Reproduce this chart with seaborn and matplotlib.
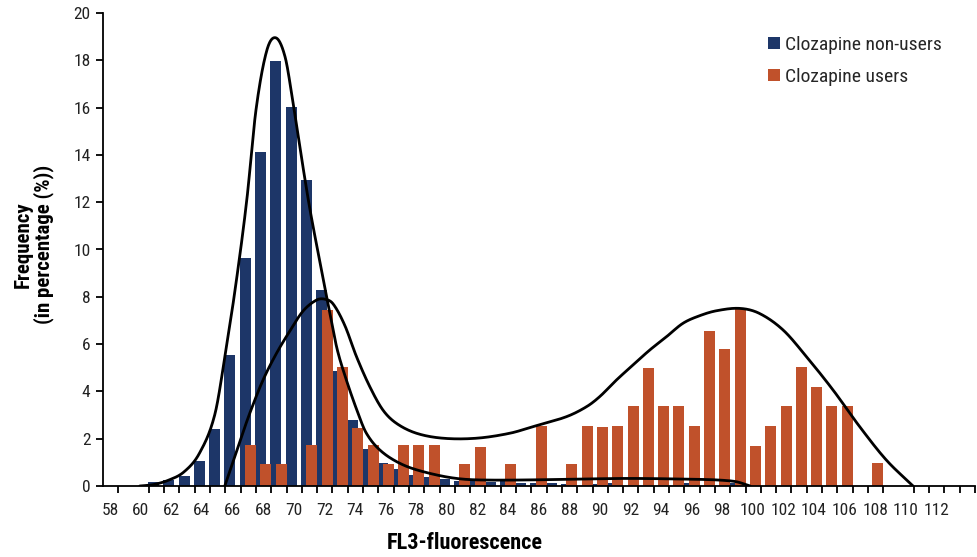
import numpy as np
import pandas as pd
import matplotlib
matplotlib.use("Agg")
import matplotlib.pyplot as plt
import seaborn as sns
from matplotlib.patches import Patch
from matplotlib.ticker import FixedLocator

# Histogram of FL3-fluorescence (percentage of cells per bin)
fluor_nonusers = list(range(61, 100))
pct_nonusers = [0.17, 0.25, 0.42, 1.06, 2.41, 5.54, 9.64, 14.12, 17.97, 16.03,
                12.94, 8.29, 4.86, 2.79, 1.56, 0.99, 0.72, 0.46, 0.40, 0.28,
                0.20, 0.20, 0.18, 0.20, 0.14, 0.14, 0.14, 0.10, 0.00, 0.10,
                0.12, 0.00, 0.00, 0.00, 0.00, 0.12, 0.00, 0.00, 0.12]

fluor_users = list(range(67, 109))
pct_users = [1.73, 0.93, 0.93, 0.00, 1.73, 7.44, 5.03, 2.44, 1.73, 0.93,
             1.73, 1.73, 1.73, 0.00, 0.93, 1.65, 0.00, 0.93, 0.00, 2.54,
             0.00, 0.93, 2.54, 2.49, 2.54, 3.38, 4.99, 3.38, 3.38, 2.54,
             6.55, 5.79, 7.48, 1.69, 2.54, 3.38, 5.03, 4.19, 3.38, 3.38,
             0.00, 0.97]

# Smoothed distribution outlines (control points)
curve_nonusers_x = [60.1, 61.0, 62.0, 63.0, 64.0, 65.0, 65.7, 66.4, 67.1, 67.7,
                    68.4, 69.0, 69.6, 70.1, 70.6, 71.2, 71.9, 72.5, 73.0, 73.6,
                    74.3, 74.9, 75.8, 77.1, 78.6, 80.8, 83.0, 88.0, 92.0, 96.7,
                    98.0, 99.1, 100.0]
curve_nonusers_y = [0.0, 0.06, 0.25, 0.6, 1.38, 3.0, 5.6, 8.6, 12.1, 15.9,
                    18.4, 18.95, 18.15, 16.3, 14.2, 11.8, 9.4, 7.4, 5.8, 4.5,
                    3.2, 2.25, 1.52, 0.96, 0.61, 0.32, 0.25, 0.28, 0.32, 0.28,
                    0.25, 0.18, 0.0]

curve_users_x = [65.66, 66.64, 67.29, 68.16, 69.04, 69.91, 70.78, 71.65, 72.2, 72.74,
                 73.5, 74.27, 75.14, 76.0, 76.88, 78.19, 79.93, 82.11, 84.29, 85.81,
                 87.99, 89.3, 90.17, 91.26, 92.35, 93.44, 94.53, 95.61, 96.7, 97.8,
                 99.32, 100.6, 102.15, 103.68, 105.42, 107.16, 108.9, 110.65]
curve_users_y = [0.0, 1.87, 3.07, 4.48, 5.61, 6.55, 7.4, 7.86, 7.9, 7.7,
                 6.8, 5.47, 4.2, 3.21, 2.65, 2.23, 2.02, 2.02, 2.23, 2.51,
                 2.93, 3.35, 3.78, 4.48, 5.12, 5.75, 6.31, 6.88, 7.2, 7.41,
                 7.51, 7.3, 6.6, 5.47, 4.06, 2.51, 1.1, 0.0]

x_tick_labels = list(range(58, 113, 2))
y_ticks = list(range(0, 21, 2))

labels = ["Clozapine non-users", "Clozapine users"]
navy = "#1d3668"
rust = "#c0512b"


def smooth_line(xs, ys, steps=30):
    """Cubic Hermite curve through the control points (finite-difference slopes)."""
    x = np.asarray(xs, float)
    y = np.asarray(ys, float)
    m = np.empty_like(y)
    m[1:-1] = (y[2:] - y[:-2]) / (x[2:] - x[:-2])
    m[0] = (y[1] - y[0]) / (x[1] - x[0])
    m[-1] = (y[-1] - y[-2]) / (x[-1] - x[-2])
    px, py = [], []
    t = np.linspace(0, 1, steps, endpoint=False)
    h00 = 2 * t ** 3 - 3 * t ** 2 + 1
    h10 = t ** 3 - 2 * t ** 2 + t
    h01 = -2 * t ** 3 + 3 * t ** 2
    h11 = t ** 3 - t ** 2
    for i in range(len(x) - 1):
        h = x[i + 1] - x[i]
        px.append(x[i] + h * t)
        py.append(h00 * y[i] + h10 * h * m[i] + h01 * y[i + 1] + h11 * h * m[i + 1])
    px.append([x[-1]])
    py.append([y[-1]])
    return np.concatenate(px), np.clip(np.concatenate(py), 0, None)


sns.set_theme(style="ticks")
plt.rcParams["font.family"] = ["Roboto Condensed", "Liberation Sans Narrow",
                               "Liberation Sans", "DejaVu Sans"]

fig = plt.figure(figsize=(9.78, 5.57), dpi=100)
ax = fig.add_axes([103 / 978, 1 - 486 / 557, (975 - 103) / 978, (486 - 13) / 557])

df_non = pd.DataFrame({"fluor": fluor_nonusers, "pct": pct_nonusers})
df_usr = pd.DataFrame({"fluor": np.array(fluor_users) + 0.35, "pct": pct_users})

bar_w = 0.72
sns.barplot(data=df_non, x="fluor", y="pct", native_scale=True, color=navy,
            saturation=1, width=bar_w, errorbar=None, linewidth=0, ax=ax)
sns.barplot(data=df_usr, x="fluor", y="pct", native_scale=True, color=rust,
            saturation=1, width=bar_w, errorbar=None, linewidth=0, ax=ax)

cx, cy = smooth_line(curve_nonusers_x, curve_nonusers_y)
sns.lineplot(x=cx, y=cy, sort=False, estimator=None, color="black", linewidth=2.0, ax=ax)
cx, cy = smooth_line(curve_users_x, curve_users_y)
sns.lineplot(x=cx, y=cy, sort=False, estimator=None, color="black", linewidth=2.0, ax=ax)

ax.set_xlim(57.7, 114.7)
ax.set_ylim(0, 20)

# category labels centred on each bin, boundary ticks between bins
ax.xaxis.set_major_locator(FixedLocator([v + 0.17 for v in x_tick_labels]))
ax.set_xticklabels([str(v) for v in x_tick_labels])
minor_pos = [v + 0.7 for v in range(58, 115) if v not in (59, 109)]
ax.xaxis.set_minor_locator(FixedLocator(minor_pos))
ax.tick_params(axis="x", which="major", length=0, pad=12, labelsize=12.5, labelcolor="#222222")
ax.tick_params(axis="x", which="minor", length=5, width=1.3, color="black", direction="out")
ax.set_yticks(y_ticks)
ax.tick_params(axis="y", length=5, width=1.3, color="black", direction="out",
               labelsize=12.5, labelcolor="#222222", pad=4)

for side in ("top", "right"):
    ax.spines[side].set_visible(False)
for side in ("left", "bottom"):
    ax.spines[side].set_linewidth(1.3)
    ax.spines[side].set_color("black")

ax.set_xlabel("FL3-fluorescence", fontsize=16, fontweight="bold", color="black")
ax.xaxis.set_label_coords((465 - 103) / 872, -0.097)
ax.set_ylabel("Frequency\n(in percentage (%))", fontsize=15, fontweight="bold",
              color="black", linespacing=1.05)
ax.yaxis.set_label_coords((54 - 103) / 872, 0.51)

handles = [Patch(facecolor=navy, edgecolor="none"), Patch(facecolor=rust, edgecolor="none")]
fig.legend(handles, labels, loc="upper left", bbox_to_anchor=(768 / 978, 1 - 36 / 557),
           frameon=False, fontsize=14, handlelength=0.6, handleheight=0.6,
           handletextpad=0.3, labelspacing=0.7, borderpad=0, borderaxespad=0)

fig.savefig("out.png", dpi=100)
